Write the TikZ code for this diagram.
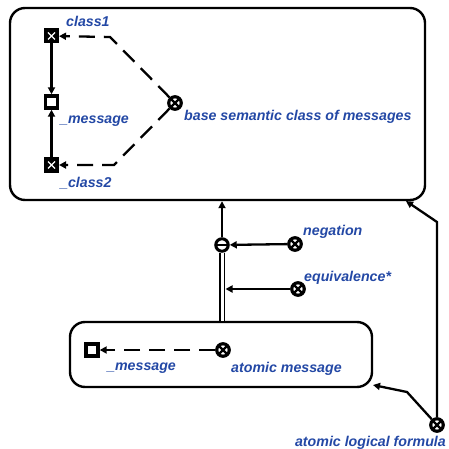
\documentclass[tikz,border=0pt]{standalone}
\usepackage{fontspec}
\setmainfont{Liberation Sans}
\usetikzlibrary{arrows.meta}
\definecolor{labelblue}{RGB}{35,72,165}
\begin{document}
\begin{tikzpicture}[x=1pt,y=-1pt,
  lbl/.style={font=\fontsize{14.2}{16}\selectfont\bfseries\itshape, text=labelblue, inner sep=0pt, anchor=west},
  frame/.style={draw, line width=2.4pt, rounded corners=15pt, inner sep=0pt},
  conn/.style={line width=2.3pt},
  tip/.style={-{Triangle[length=7pt,width=7pt]}},
  dashconn/.style={conn, dash pattern=on 16pt off 9pt},
  classnode/.style={draw, fill=black, minimum size=14pt, inner sep=0pt, line width=1pt,
    path picture={
      \draw[white, line width=1.2pt]
        ([xshift=-3.5pt,yshift=-3.5pt]path picture bounding box.center) -- ([xshift=3.5pt,yshift=3.5pt]path picture bounding box.center)
        ([xshift=-3.5pt,yshift=3.5pt]path picture bounding box.center) -- ([xshift=3.5pt,yshift=-3.5pt]path picture bounding box.center);}},
  msgnode/.style={draw, fill=white, minimum size=12pt, line width=3.4pt, inner sep=0pt},
  opnode/.style={circle, draw, fill=white, minimum size=12.5pt, line width=3.2pt, inner sep=0pt,
    path picture={
      \draw[black, line width=2.4pt]
        ([xshift=-6pt,yshift=-6pt]path picture bounding box.center) -- ([xshift=6pt,yshift=6pt]path picture bounding box.center)
        ([xshift=-6pt,yshift=6pt]path picture bounding box.center) -- ([xshift=6pt,yshift=-6pt]path picture bounding box.center);}},
  minusnode/.style={circle, draw, fill=white, minimum size=12.5pt, line width=3pt, inner sep=0pt,
    path picture={
      \draw[black, line width=2.2pt]
        ([xshift=-7pt]path picture bounding box.center) -- ([xshift=7pt]path picture bounding box.center);}}
]
\useasboundingbox (0,0) rectangle (448,449);

% containers
\node[frame, minimum width=415pt, minimum height=192pt] (outer) at (217.5,104) {};
\node[frame, minimum width=302pt, minimum height=65pt] (inner) at (221,354.5) {};

% upper container contents
\node[classnode] (class1) at (51.5,36) {};
\node[msgnode] (msg1) at (51.5,102) {};
\node[classnode] (class2) at (51.5,165) {};
\node[opnode] (base) at (175,103) {};
\coordinate (bend1) at (110,37);
\coordinate (bend2) at (114,165);

\node[lbl] (lclass1) at (66,21) {class1};
\node[lbl] (lmsg1) at (60,121) {\_message};
\node[lbl] (lclass2) at (60,183) {\_class2};
\node[lbl] (lbase) at (184,117) {base semantic class of messages};

\draw[conn,tip] (class1) -- (msg1);
\draw[conn,tip] (class2) -- (msg1);
\draw[dashconn,tip] (base) -- (bend1) -- (class1);
\draw[dashconn,tip] (base) -- (bend2) -- (class2);

% operators between the containers
\node[minusnode] (minus) at (222,245) {};
\node[opnode] (neg) at (295,244) {};
\node[opnode] (equiv) at (298,289) {};
\node[lbl] (lneg) at (303,232) {negation};
\node[lbl] (lequiv) at (304,278) {equivalence*};
\coordinate (rail) at (225.5,289);

\draw[conn,tip] (minus) -- (minus |- outer.south);
\draw[conn,tip] (neg) -- (minus);
\draw[line width=1.7pt, double, double distance=3pt] (minus.south) -- (minus.south |- inner.north);
\draw[conn,tip] (equiv) -- (rail);

% lower container contents
\node[msgnode] (msg2) at (92,350) {};
\node[opnode] (atomic) at (223,350) {};
\node[lbl] (lmsg2) at (107,368) {\_message};
\node[lbl] (latomic) at (231,369) {atomic message};
\draw[dashconn,tip] (atomic) -- (msg2);

% atomic logical formula
\node[opnode] (alf) at (437,425) {};
\node[lbl, anchor=east] (lalf) at (446,443) {atomic logical formula};
\coordinate (up1) at (437,222);
\coordinate (tip1) at (406,201);
\coordinate (up2) at (407,392);
\coordinate (tip2) at (373,385);
\draw[conn,tip] (alf) -- (up1) -- (tip1);
\draw[conn,tip] (alf) -- (up2) -- (tip2);
\end{tikzpicture}
\end{document}
